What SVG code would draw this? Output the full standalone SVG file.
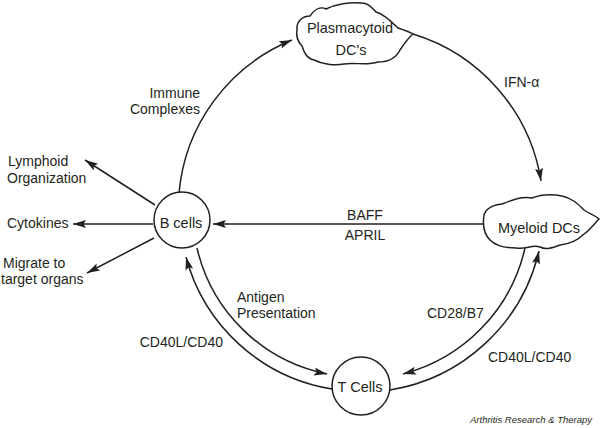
<svg xmlns="http://www.w3.org/2000/svg" width="600" height="428" viewBox="0 0 600 428">
<style>
.t{font-family:"Liberation Sans",Arial,sans-serif;font-size:14px;fill:#231f20}
.n{font-family:"Liberation Sans",Arial,sans-serif;font-size:14.5px;fill:#231f20}
.e{fill:none;stroke:#231f20;stroke-width:1.5}
.s{fill:#fff;stroke:#231f20;stroke-width:1.5}
.c{font-family:"Liberation Sans",Arial,sans-serif;font-size:9.5px;font-style:italic;fill:#231f20}
</style>
<defs>
<marker id="ah" markerUnits="userSpaceOnUse" markerWidth="14" markerHeight="10" refX="13" refY="4" orient="auto">
<path d="M0,0 L13,4 L0,8 L2.5,4 Z" fill="#231f20"/>
</marker>
</defs>
<rect width="600" height="428" fill="#fff"/>
<g id="connectors">
<path class="e" d="M179,193 A183,183 0 0 1 292,40" marker-end="url(#ah)"/>
<path class="e" d="M413,34 A184,184 0 0 1 541,181" marker-end="url(#ah)"/>
<path class="e" d="M483,224 L213,224" marker-end="url(#ah)"/>
<path class="e" d="M332,389 A181,181 0 0 1 186,257" marker-end="url(#ah)"/>
<path class="e" d="M197,248 A167,167 0 0 0 327,374" marker-end="url(#ah)"/>
<path class="e" d="M525,248 A169,169 0 0 1 403,374" marker-end="url(#ah)"/>
<path class="e" d="M390,390 A183,183 0 0 0 539,251" marker-end="url(#ah)"/>
<path class="e" d="M155,205 L85,160" marker-end="url(#ah)"/>
<path class="e" d="M153,224 L73,224" marker-end="url(#ah)"/>
<path class="e" d="M154,238 L87,273" marker-end="url(#ah)"/>
<text class="t" x="200" y="98" text-anchor="end">Immune</text>
<text class="t" x="200" y="114" text-anchor="end">Complexes</text>
<text class="t" x="504" y="87">IFN-α</text>
<text class="t" x="365" y="220" text-anchor="middle">BAFF</text>
<text class="t" x="365" y="240" text-anchor="middle">APRIL</text>
<text class="t" x="237" y="302">Antigen</text>
<text class="t" x="237" y="318">Presentation</text>
<text class="t" x="223" y="347" text-anchor="end">CD40L/CD40</text>
<text class="t" x="427" y="318">CD28/B7</text>
<text class="t" x="488" y="362">CD40L/CD40</text>
</g>
<g id="plasmacytoid">
<path class="s" d="M297,30 C296,22 302,16 310,16 C314,10 320,6 326,9 C336,4 350,2 360,3 C368,2 372,8 376,12 C384,14 392,22 398,28 C404,30 410,32 413,34 C408,38 404,44 400,50 C396,58 388,62 378,62 C366,66 354,62 344,64 C334,66 322,64 314,60 C306,58 304,52 302,46 C298,42 296,36 297,30 Z"/>
<text class="n" x="350" y="33" text-anchor="middle">Plasmacytoid</text>
<text class="n" x="351" y="55" text-anchor="middle">DC's</text>
</g>
<g id="myeloid">
<path class="s" d="M484,215 C486,208 494,205 502,204 C512,200 522,196 532,198 C542,194 552,194 562,196 C572,198 578,204 584,210 C590,214 596,216 599,219 C594,224 590,230 584,234 C578,240 570,244 560,245 C552,248 546,250 540,247 C532,244 526,250 516,248 C506,248 496,246 490,240 C486,236 482,228 484,215 Z"/>
<text class="n" x="539" y="233" text-anchor="middle">Myeloid DCs</text>
</g>
<g id="bcells">
<circle class="s" cx="182" cy="220" r="28"/>
<text class="n" x="181" y="228" text-anchor="middle">B cells</text>
</g>
<g id="tcells">
<circle class="s" cx="361" cy="386" r="29"/>
<text class="n" x="360" y="392" text-anchor="middle">T Cells</text>
</g>
<g id="lymphoid">
<text class="t" x="8" y="166">Lymphoid</text>
<text class="t" x="7" y="183">Organization</text>
</g>
<g id="cytokines">
<text class="t" x="7" y="228">Cytokines</text>
</g>
<g id="migrate">
<text class="t" x="3" y="268">Migrate to</text>
<text class="t" x="1" y="284">target organs</text>
</g>
<text class="c" x="592" y="423" text-anchor="end">Arthritis Research &amp; Therapy</text>
</svg>
